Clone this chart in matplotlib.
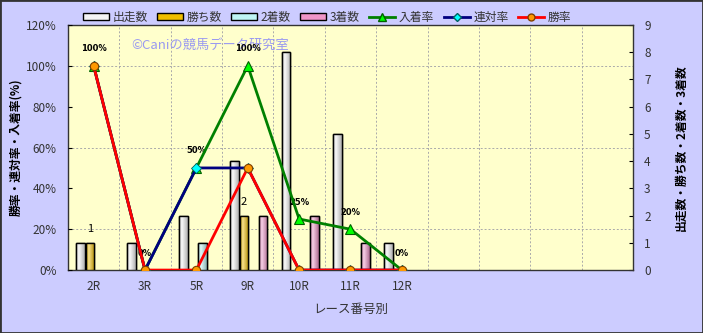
import numpy as np
import matplotlib
matplotlib.use("Agg")
import matplotlib.pyplot as plt
from matplotlib.colors import to_rgb
from matplotlib.patches import Rectangle
from matplotlib.lines import Line2D
from matplotlib.patches import Patch

plt.rcParams['font.family'] = ['Noto Sans CJK JP', 'DejaVu Sans']

races = ['2R', '3R', '5R', '9R', '10R', '11R', '12R']
starts = [1, 1, 2, 4, 8, 5, 1]      # 出走数
wins = [1, 0, 0, 2, 0, 0, 0]        # 勝ち数
seconds = [0, 0, 1, 0, 0, 0, 0]     # 2着数
thirds = [0, 0, 0, 2, 2, 1, 0]      # 3着数
place_rate = [100, 0, 50, 100, 25, 20, 0]   # 入着率
rentai_rate = [100, 0, 50, 50, 0, 0, 0]     # 連対率
win_rate = [100, 0, 0, 50, 0, 0, 0]         # 勝率
n_slots = 11

BG = '#CCCCFF'
PLOT_BG = '#FFFFCC'
TXT = '#333333'


def shade(col):
    # horizontal gradient: dark edges, light streak left of centre
    c = np.array(to_rgb(col))
    dark = c * 0.72
    light = c + (1 - c) * 0.55
    t = np.linspace(0, 1, 24)
    prof = np.interp(t, [0, 0.3, 0.6, 1], [0, 1, 0.6, 0])
    rows = dark[None, :] + (light - dark)[None, :] * prof[:, None]
    return rows[None, :, :]


fig = plt.figure(figsize=(7.03, 3.33), dpi=100, facecolor=BG)
ax = fig.add_axes([0.0967, 0.189, 0.8037, 0.736])
ax2 = ax.twinx()
ax.set_facecolor(PLOT_BG)
x = np.arange(len(races))

# bars (counts, right-hand scale)
w = 0.185
bar_specs = [
    (starts, '#F4F4F4', '出走数'),
    (wins, '#F0BE00', '勝ち数'),
    (seconds, '#BFF5F5', '2着数'),
    (thirds, '#F095C8', '3着数'),
]
for i, (vals, col, lab) in enumerate(bar_specs):
    pos = x + (i - 1.5) * w + 0.02
    v = np.array(vals, dtype=float)
    m = v > 0
    bars = ax.bar(pos[m], v[m], width=w * 0.92, color=col, edgecolor='black',
                  linewidth=1.0, zorder=3)
    for b in bars:
        im = ax.imshow(shade(col), aspect='auto', zorder=3.1,
                       extent=[b.get_x(), b.get_x() + b.get_width(),
                               0, b.get_height()])
        im.set_clip_path(b)
    ax.bar(pos[m], v[m], width=w * 0.92, color='none', edgecolor='black',
           linewidth=1.0, zorder=3.2)

# labels on win bars
for xi, v in zip(x, wins):
    if v > 0:
        ax.annotate(str(v), (xi - 0.5 * w + 0.02, v), xytext=(0, 6),
                    textcoords='offset points', ha='center', va='bottom',
                    fontsize=8, color='black', zorder=6)

ax.set_xlim(-0.5, n_slots - 0.5)
ax.set_ylim(0, 9)
ax.set_yticks(range(0, 10))
ax.yaxis.tick_right()
ax.yaxis.set_label_position('right')
ax.set_ylabel('出走数・勝ち数・2着数・3着数', fontsize=8.5, fontweight='bold',
              rotation=90, labelpad=17, color='black')
ax.set_xticks(x)
ax.set_xticklabels(races)
ax.set_xticks(np.arange(0.5, n_slots - 0.5, 1), minor=True)
ax.set_yticks(np.arange(1.5, 9, 1.5), minor=True)
ax.grid(which='minor', color='#AAAAAA', linestyle=(0, (2, 2)), linewidth=0.7)
ax.set_axisbelow(True)
ax.tick_params(axis='both', which='minor', length=0)
ax.tick_params(axis='x', which='major', length=0, labelsize=8.5,
               labelcolor=TXT, pad=7)
ax.tick_params(axis='y', which='major', direction='in', length=3,
               labelsize=8.5, labelcolor=TXT, pad=8)
ax.set_xlabel('レース番号別', fontsize=9, color=TXT, labelpad=7)
for s in ax.spines.values():
    s.set_color('#333333')
    s.set_linewidth(1.0)

# lines (percent, left-hand scale)
ax2.yaxis.tick_left()
ax2.yaxis.set_label_position('left')
ax2.set_ylim(0, 120)
ax2.set_yticks(range(0, 121, 20))
ax2.set_yticklabels([f'{v}%' for v in range(0, 121, 20)])
ax2.tick_params(axis='y', direction='in', length=3, labelsize=8.5,
                labelcolor=TXT, pad=8)
ax2.set_ylabel('勝率・連対率・入着率(%)', fontsize=8.5, fontweight='bold',
               labelpad=3, color='black')
ax2.plot(x, place_rate, color='#008000', lw=2, marker='^', ms=7,
         mfc='#00FF00', mec='#006000', mew=0.8, zorder=4)
ax2.plot(x, rentai_rate, color='#000080', lw=2, marker='D', ms=5,
         mfc='#00FFFF', mec='#006060', mew=0.6, zorder=5)
ax2.plot(x, win_rate, color='#FF0000', lw=2, marker='o', ms=6,
         mfc='#FF9900', mec='#804000', mew=0.8, zorder=6)
for xi, v in zip(x, place_rate):
    ax2.annotate(f'{v}%', (xi, v), xytext=(0, 9), textcoords='offset points',
                 ha='center', va='bottom', fontsize=6, fontweight='bold',
                 family=['DejaVu Sans'], color='black')
for s in ax2.spines.values():
    s.set_visible(False)

ax2.text(0.112, 0.915, '©Caniの競馬データ研究室', transform=ax2.transAxes,
         fontsize=9.5, color='#9A9AF0', ha='left', va='center', zorder=1)

# legend
handles = [Patch(facecolor=c, edgecolor='black', linewidth=1.0, label=l)
           for _, c, l in bar_specs]
handles += [
    Line2D([], [], color='#008000', lw=2, marker='^', ms=6, mfc='#00FF00',
           mec='#006000', label='入着率'),
    Line2D([], [], color='#000080', lw=2, marker='D', ms=4, mfc='#00FFFF',
           mec='#006060', label='連対率'),
    Line2D([], [], color='#FF0000', lw=2, marker='o', ms=5, mfc='#FF9900',
           mec='#804000', label='勝率'),
]
leg = fig.legend(handles=handles, loc='center', bbox_to_anchor=(0.465, 0.948),
                 ncol=7, frameon=False, fontsize=8.5, handlelength=2.2,
                 handleheight=0.5, handletextpad=0.3, columnspacing=0.8)
for t in leg.get_texts():
    t.set_color(TXT)

fig.patches.append(Rectangle((0, 0), 1, 1, transform=fig.transFigure,
                             fill=False, edgecolor='#333333', linewidth=2))

fig.savefig('out.png', dpi=100, facecolor=BG)
